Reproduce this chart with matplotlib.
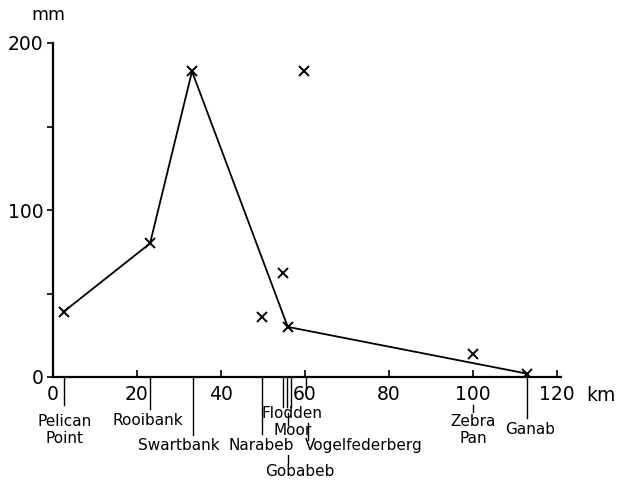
import numpy as np
import matplotlib
matplotlib.use("Agg")
import matplotlib.pyplot as plt

# stations: distance from coast (km) and rainfall (mm)
stations = ['Pelican Point', 'Rooibank', 'Swartbank', 'Narabeb', 'Flodden Moor',
            'Gobabeb', 'Vogelfederberg', 'Zebra Pan', 'Ganab']
km = [2.5, 23.1, 33.1, 49.8, 54.8, 55.9, 59.8, 100, 112.9]
rain = [39, 80, 183, 36, 62, 30, 183, 14, 2]

# stations joined by the line
line_stations = ['Pelican Point', 'Rooibank', 'Swartbank', 'Gobabeb', 'Ganab']

xticks = [0, 20, 40, 60, 80, 100, 120]
yticks = [0, 100, 200]
yminor = [50, 150]

plt.rcParams['font.family'] = ['DejaVu Sans']

fig = plt.figure(figsize=(6.23, 4.82), dpi=100)
ax = fig.add_axes([53/623, (482-377)/482, (557-53)/623, (377-43)/482])

lx = [km[stations.index(s)] for s in line_stations]
ly = [rain[stations.index(s)] for s in line_stations]
ax.plot(lx, ly, color='black', lw=1.3, zorder=2)
ax.plot(km, rain, ls='none', marker='x', ms=7, mew=1.4, color='black', zorder=3)

ax.set_xlim(0, 120)
ax.set_ylim(0, 200)
for s in ['top', 'right']:
    ax.spines[s].set_visible(False)
for s in ['left', 'bottom']:
    ax.spines[s].set_linewidth(1.6)
ax.spines['bottom'].set_bounds(0, 121)

ax.set_xticks(xticks)
ax.set_xticklabels([str(t) for t in xticks], fontsize=13.5)
ax.set_yticks(yticks)
ax.set_yticklabels([str(t) for t in yticks], fontsize=13.5)
ax.set_yticks(yminor, minor=True)
ax.tick_params(axis='x', direction='in', length=5, width=1.2, pad=6)
ax.tick_params(axis='y', which='both', direction='out', length=4, width=1.2, pad=3)

ax.text(-1.2, 217, 'mm', fontsize=12.5, ha='center', va='center', clip_on=False)
ax.text(130.5, -10.8, 'km', fontsize=13.5, ha='center', va='center', clip_on=False)

# station marker lines under the axis (km, y from, y to) in mm units
leader_lines = [
    (2.5, 0, -17), (23.1, 0, -19), (33.3, 0, -35), (49.8, 0, -34),
    (54.8, 0, -18), (55.8, 0, -18), (56.6, 0, -18),
    (55.9, -21.6, -28.7), (55.9, -46.7, -51.5),
    (60.2, 0, -7), (60.6, -27.5, -37.7),
    (100, -16.8, -21), (112.9, 0, -24.5),
]
for x, y0, y1 in leader_lines:
    ax.plot([x, x], [y0, y1], color='black', lw=1.0, clip_on=False)

# station label positions (x centre, y centre) in data units
label_text = ['Pelican\nPoint', 'Rooibank', 'Swartbank', 'Narabeb', 'Flodden\nMoor',
              'Gobabeb', 'Vogelfederberg', 'Zebra\nPan', 'Ganab']
label_x = [2.7, 22.6, 30.0, 49.5, 57.0, 58.8, 74.0, 100, 113.6]
label_y = [-31.7, -26.3, -41.3, -41.3, -27.0, -56.3, -41.3, -31.7, -31.7]
for t, x, y in zip(label_text, label_x, label_y):
    ax.text(x, y, t, fontsize=11, ha='center', va='center', linespacing=1.15,
            clip_on=False)

fig.savefig('out.png', dpi=100)
